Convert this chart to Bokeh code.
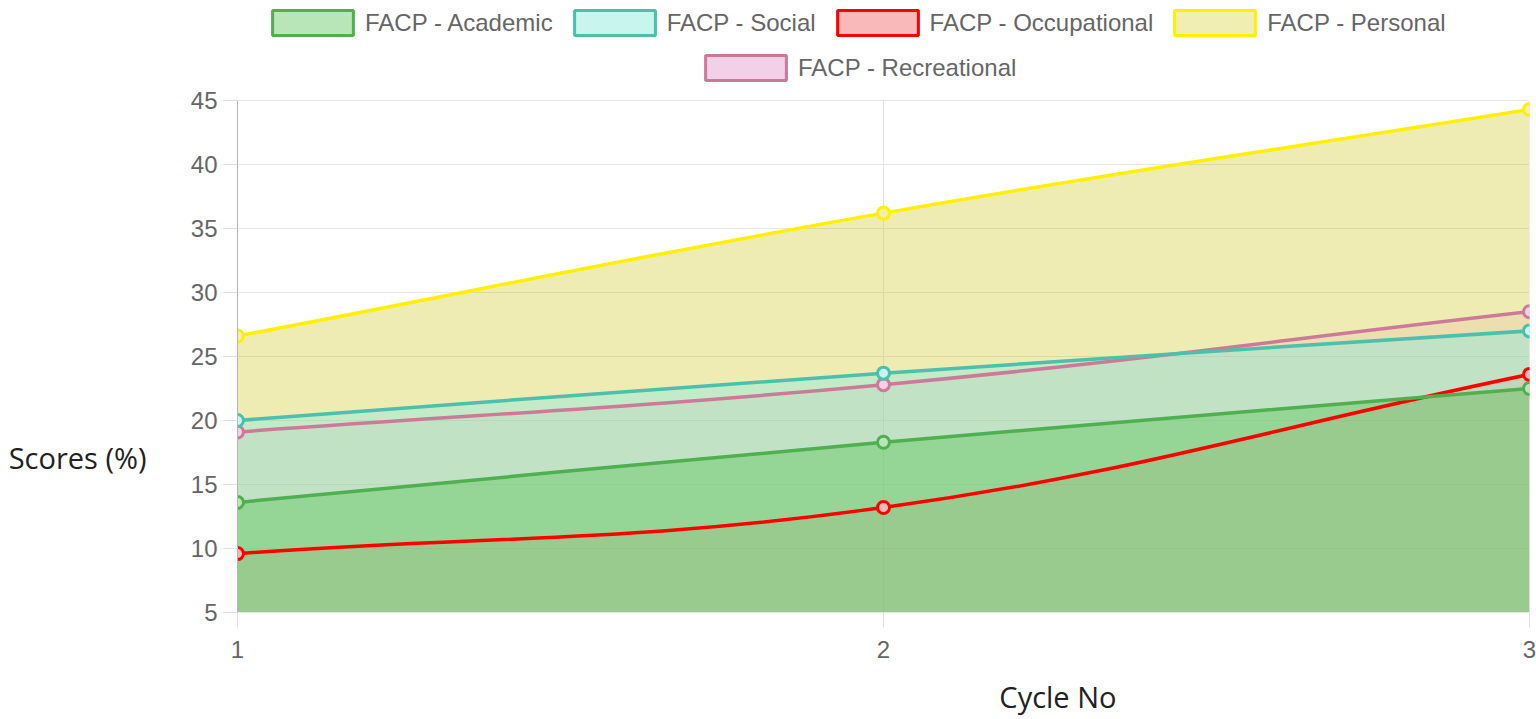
import numpy as np
from bokeh.plotting import figure
from bokeh.models import Range1d, FixedTicker, Legend, LegendItem, LinearAxis
from bokeh.embed import file_html
from bokeh.resources import INLINE

# ---------------- data ----------------
cycles = [1, 2, 3]
academic = [13.6, 18.3, 22.5]
social = [20.0, 23.7, 27.0]
occupational = [9.6, 13.2, 23.6]
personal = [26.6, 36.2, 44.3]
recreational = [19.1, 22.8, 28.5]
y_ticks = [5, 10, 15, 20, 25, 30, 35, 40, 45]
x_ticks = [1, 2, 3]
labels = ["FACP - Academic", "FACP - Social", "FACP - Occupational",
          "FACP - Personal", "FACP - Recreational"]
x_title = "Cycle No"
y_title = "Scores (%)"

# ---------------- styles ----------------
line_colors = ["#50AF50", "#4BC0AC", "#FF0000", "#FFF000", "#CD7A99"]
legend_fills = ["#B8E6B8", "#C8F5EE", "#FAB9B9", "#F0EEB2", "#F2D0E8"]
area_fill = {  # color, alpha (layered from bottom)
    "FACP - Personal": ("#C6C000", 0.30),
    "FACP - Recreational": ("#DC78A0", 0.12),
    "FACP - Social": ("#73ECEE", 0.35),
    "FACP - Academic": ("#46C13F", 0.35),
    "FACP - Occupational": ("#FF0000", 0.05),
}
series = dict(zip(labels, [academic, social, occupational, personal, recreational]))
colors = dict(zip(labels, line_colors))
lfills = dict(zip(labels, legend_fills))

W, H = 1536, 719
BL, BR, BB = 237, 7, 107
PLOT_TOP_PX = 100                     # pixel row of the top y tick
Y0, Y1 = y_ticks[0], y_ticks[-1]
SY = (H - BB - PLOT_TOP_PX) / (Y1 - Y0)   # px per y unit
Y_END = Y1 + PLOT_TOP_PX / SY            # frame reaches the top (room for legend)
SX = (W - BL - BR) / (x_ticks[-1] - x_ticks[0])
TENSION = 0.4
X_TITLE_POS = 2.27
Y_TITLE_POS = 17.1


def spline_controls(xs, ys):
    px = np.array(xs, float) * SX
    py = np.array(ys, float) * SY
    n = len(px)
    cprev, cnext = [], []
    for i in range(n):
        ip, inx = max(i - 1, 0), min(i + 1, n - 1)
        d01 = np.hypot(px[i] - px[ip], py[i] - py[ip])
        d12 = np.hypot(px[inx] - px[i], py[inx] - py[i])
        tot = d01 + d12
        s01 = d01 / tot if tot else 0
        s12 = d12 / tot if tot else 0
        fa, fb = TENSION * s01, TENSION * s12
        dx, dy = px[inx] - px[ip], py[inx] - py[ip]
        cprev.append(((px[i] - fa * dx) / SX, (py[i] - fa * dy) / SY))
        cnext.append(((px[i] + fb * dx) / SX, (py[i] + fb * dy) / SY))
    return [((xs[i], ys[i]), cnext[i], cprev[i + 1], (xs[i + 1], ys[i + 1]))
            for i in range(n - 1)]


def sample(segs, k=60):
    t = np.linspace(0, 1, k)
    X, Y = [], []
    for (p0, c0, c1, p1) in segs:
        bx = (1 - t) ** 3 * p0[0] + 3 * (1 - t) ** 2 * t * c0[0] + 3 * (1 - t) * t ** 2 * c1[0] + t ** 3 * p1[0]
        by = (1 - t) ** 3 * p0[1] + 3 * (1 - t) ** 2 * t * c0[1] + 3 * (1 - t) * t ** 2 * c1[1] + t ** 3 * p1[1]
        X.extend(bx.tolist())
        Y.extend(by.tolist())
    return X, Y


p = figure(width=W, height=H, output_backend="svg", toolbar_location=None,
           x_range=Range1d(x_ticks[0], x_ticks[-1]), y_range=Range1d(Y0, Y_END),
           min_border_left=BL, min_border_right=BR, min_border_top=0, min_border_bottom=BB)
p.outline_line_color = None
p.background_fill_color = "white"

# grid
p.xgrid.visible = False
p.ygrid.ticker = FixedTicker(ticks=y_ticks)
p.ygrid.grid_line_color = "#E5E5E5"
# vertical grid lines only over the tick span
p.segment(x0=x_ticks, y0=[Y0] * len(x_ticks), x1=x_ticks, y1=[Y1] * len(x_ticks),
          line_color="#E5E5E5", line_width=1)

# axes
p.xaxis.ticker = FixedTicker(ticks=x_ticks)
p.yaxis.ticker = FixedTicker(ticks=y_ticks)
for ax in (p.xaxis[0], p.yaxis[0]):
    ax.major_label_text_font = "Liberation Sans"
    ax.major_label_text_font_size = "24px"
    ax.major_label_text_color = "#666666"
    ax.major_tick_in = 0
    ax.major_tick_out = 15
    ax.major_tick_line_color = "#E0E0E0"
    ax.minor_tick_line_color = None
p.xaxis.axis_line_color = None
p.yaxis.axis_line_color = "#B4B4B4"
p.yaxis.bounds = (Y0, Y1)
p.yaxis.major_label_standoff = 5
p.xaxis.major_label_standoff = 13

# axis titles as outer axes (real text placed through the scales)
ytitle_ax = LinearAxis(ticker=FixedTicker(ticks=[Y_TITLE_POS]),
                       major_label_overrides={Y_TITLE_POS: y_title},
                       axis_line_color=None, major_tick_line_color=None,
                       minor_tick_line_color=None, major_label_standoff=35,
                       major_label_text_font="Open Sans", major_label_text_font_size="29px",
                       major_label_text_color="#222222")
p.add_layout(ytitle_ax, "left")
xtitle_ax = LinearAxis(ticker=FixedTicker(ticks=[X_TITLE_POS]),
                       major_label_overrides={X_TITLE_POS: x_title},
                       axis_line_color=None, major_tick_line_color=None,
                       minor_tick_line_color=None, major_label_standoff=10,
                       major_label_text_font="Open Sans", major_label_text_font_size="29px",
                       major_label_text_color="#222222")
p.add_layout(xtitle_ax, "below")

# areas (layered)
order = ["FACP - Personal", "FACP - Recreational", "FACP - Social",
         "FACP - Academic", "FACP - Occupational"]
segs_all = {k: spline_controls(cycles, series[k]) for k in labels}
for k in order:
    X, Y = sample(segs_all[k])
    c, a = area_fill[k]
    p.varea(x=X, y1=[Y0] * len(X), y2=Y, fill_color=c, fill_alpha=a)

# lines and points
for k in reversed(labels):
    segs = segs_all[k]
    p.bezier(x0=[s[0][0] for s in segs], y0=[s[0][1] for s in segs],
             x1=[s[3][0] for s in segs], y1=[s[3][1] for s in segs],
             cx0=[s[1][0] for s in segs], cy0=[s[1][1] for s in segs],
             cx1=[s[2][0] for s in segs], cy1=[s[2][1] for s in segs],
             line_color=colors[k], line_width=3.5)
for k in reversed(labels):
    p.scatter(x=cycles, y=series[k], size=12, marker="circle",
              fill_color=lfills[k], line_color=colors[k], line_width=3)

# legend proxies (no visible geometry)
legend_r = {}
nan = np.array([np.nan])
for k in labels:
    legend_r[k] = p.quad(left=nan, right=nan, top=nan, bottom=nan,
                         fill_color=lfills[k], line_color=colors[k], line_width=3)


def make_legend(keys, loc):
    lg = Legend(items=[LegendItem(label=k, renderers=[legend_r[k]]) for k in keys],
                orientation="horizontal", location=loc,
                glyph_width=101, glyph_height=31, label_height=31,
                label_standoff=2, spacing=11, padding=0, margin=0,
                border_line_color=None, background_fill_alpha=0,
                label_text_font="Liberation Sans", label_text_font_size="24px",
                label_text_color="#666666")
    p.add_layout(lg)
    return lg


frame_h = H - BB
make_legend(labels[:4], (25, frame_h - 38))
make_legend(labels[4:], (458, frame_h - 83))

open("out.html", "w").write(file_html(p, INLINE))
